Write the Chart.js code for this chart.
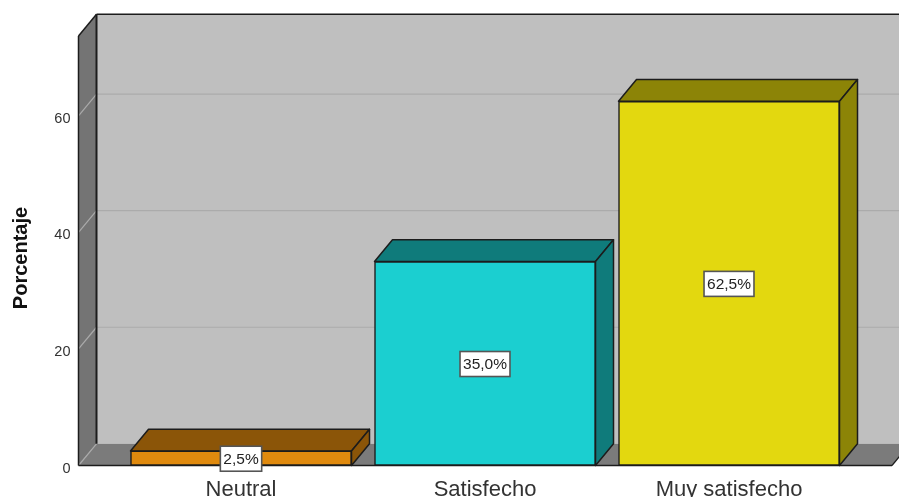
<!DOCTYPE html>
<html>
<head>
<meta charset="utf-8">
<style>html,body{margin:0;padding:0;background:#fff;overflow:hidden}canvas{display:block}</style>
<script src="https://cdn.jsdelivr.net/npm/chart.js@4/dist/chart.umd.min.js"></script>
</head>
<body>
<canvas id="c" width="899" height="497"></canvas>
<script>
const categories = ["Neutral", "Satisfecho", "Muy satisfecho"];
const percentages = [2.5, 35.0, 62.5];
const valueLabels = ["2,5%", "35,0%", "62,5%"];
const frontColors = ["#E08A0E", "#1BCFD0", "#E3D80F"];
const sideColors = ["#8B5508", "#0F7B7B", "#8C8407"];
const yAxisTitle = "Porcentaje";
const yTicks = [0, 20, 40, 60];

const DEPTH_X = 18, DEPTH_Y = -21.7;
const INK = "#1c1c1c";

function poly(ctx, pts, fill, stroke, lw) {
  ctx.beginPath();
  pts.forEach((p, i) => i ? ctx.lineTo(p[0], p[1]) : ctx.moveTo(p[0], p[1]));
  ctx.closePath();
  if (fill) { ctx.fillStyle = fill; ctx.fill(); }
  if (stroke) { ctx.strokeStyle = stroke; ctx.lineWidth = lw || 1.5; ctx.lineJoin = "round"; ctx.stroke(); }
}
function seg(ctx, a, b, color, lw) {
  ctx.beginPath(); ctx.moveTo(a[0], a[1]); ctx.lineTo(b[0], b[1]);
  ctx.strokeStyle = color; ctx.lineWidth = lw; ctx.stroke();
}

const box3d = {
  id: "box3d",
  beforeDatasetsDraw(chart) {
    const ctx = chart.ctx, a = chart.chartArea, y = chart.scales.y;
    const L = a.left, R = a.right, T = a.top, B = a.bottom, dx = DEPTH_X, dy = DEPTH_Y;
    ctx.save();
    // back wall
    poly(ctx, [[L+dx,T+dy],[R+dx,T+dy],[R+dx,B+dy],[L+dx,B+dy]], "#BFBFBF");
    // floor
    poly(ctx, [[L,B],[L+dx,B+dy],[R+dx,B+dy],[R,B]], "#7B7B7B");
    // left wall
    poly(ctx, [[L,T],[L+dx,T+dy],[L+dx,B+dy],[L,B]], "#747474");
    // grid lines from the y scale
    yTicks.forEach(v => {
      const p = y.getPixelForValue(v);
      if (v !== 0) seg(ctx, [L+dx,p+dy], [R+dx,p+dy], "#ABABAB", 1.2);
      seg(ctx, [L,p], [L+dx,p+dy], "#ABABAB", 1.2);
    });
    // outlines
    seg(ctx, [L,B], [L,T], INK, 1.5);
    seg(ctx, [L,T], [L+dx,T+dy], INK, 1.5);
    seg(ctx, [L+dx,T+dy], [R+dx,T+dy], INK, 1.5);
    seg(ctx, [L+dx,T+dy], [L+dx,B+dy], INK, 2);
    seg(ctx, [L,B], [R,B], INK, 1.5);
    seg(ctx, [R,B], [R+dx,B+dy], INK, 1.2);
    // bar depth faces
    chart.getDatasetMeta(0).data.forEach((bar, i) => {
      const l = bar.x - bar.width/2, r = bar.x + bar.width/2, t = bar.y, b = bar.base;
      poly(ctx, [[l,t],[l+dx,t+dy],[r+dx,t+dy],[r,t]], sideColors[i], INK, 1.5);
      poly(ctx, [[r,t],[r+dx,t+dy],[r+dx,b+dy],[r,b]], sideColors[i], INK, 1.5);
    });
    ctx.restore();
  },
  afterDatasetsDraw(chart) {
    const ctx = chart.ctx;
    ctx.save();
    ctx.font = "15.5px 'Liberation Sans'";
    ctx.textAlign = "center"; ctx.textBaseline = "middle";
    chart.getDatasetMeta(0).data.forEach((bar, i) => {
      const cy = (bar.y + bar.base) / 2 + 0.5;
      const w = ctx.measureText(valueLabels[i]).width + 6, h = 25;
      ctx.fillStyle = "#fff"; ctx.strokeStyle = "#555"; ctx.lineWidth = 1.6;
      ctx.fillRect(bar.x - w/2, cy - h/2, w, h);
      ctx.strokeRect(bar.x - w/2, cy - h/2, w, h);
      ctx.fillStyle = "#222";
      ctx.fillText(valueLabels[i], bar.x, cy + 1);
    });
    // y axis title
    ctx.translate(21, 258);
    ctx.rotate(-Math.PI / 2);
    ctx.font = "bold 20px 'Liberation Sans'";
    ctx.fillStyle = "#111";
    ctx.fillText(yAxisTitle, 0, 0);
    ctx.restore();
  }
};

new Chart(document.getElementById("c"), {
  type: "bar",
  data: {
    datasets: [{
      data: percentages.map((v, i) => ({ x: i, y: v })),
      backgroundColor: frontColors,
      borderColor: INK,
      borderWidth: 1.5,
      borderSkipped: false,
      barThickness: 221
    }]
  },
  options: {
    responsive: false,
    animation: false,
    layout: { padding: { top: 36, right: 7, left: 0, bottom: 0 } },
    plugins: { legend: { display: false }, tooltip: { enabled: false } },
    scales: {
      x: {
        type: "linear", offset: false, min: -0.6660, max: 2.668,
        grid: { display: false }, border: { display: false },
        afterBuildTicks(s) { s.ticks = categories.map((_, i) => ({ value: i })); },
        afterFit(s) { s.height = 31.5; },
        ticks: {
          autoSkip: false, maxRotation: 0, padding: 3,
          color: "#333", font: { family: "'Liberation Sans'", size: 22 },
          callback: v => categories[v]
        }
      },
      y: {
        min: 0, max: 73.7,
        grid: { display: false }, border: { display: false },
        afterFit(s) { s.width = 78.5; },
        afterBuildTicks(s) { s.ticks = yTicks.map(v => ({ value: v })); },
        ticks: {
          padding: 0, labelOffset: 3, includeBounds: false,
          color: "#333", font: { family: "'Liberation Sans'", size: 14.5 }
        }
      }
    }
  },
  plugins: [box3d]
});
</script>
</body>
</html>
